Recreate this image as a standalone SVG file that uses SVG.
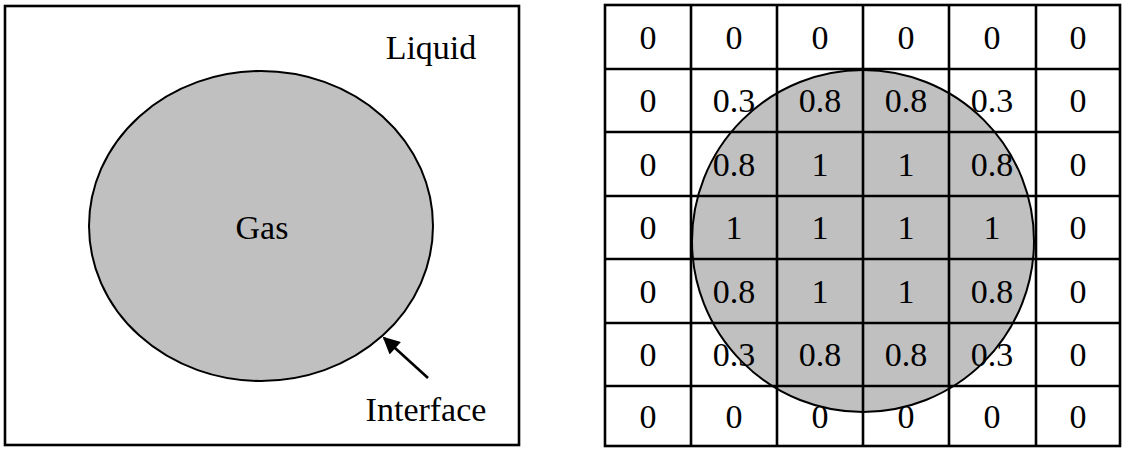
<svg xmlns="http://www.w3.org/2000/svg" width="1122" height="449" viewBox="0 0 1122 449">
<defs>
<style>
text{font-family:"Liberation Serif","Times New Roman",serif;font-size:34px;fill:#000}
.c{text-anchor:middle}
.gas{fill:#c0c0c0;stroke:#000;stroke-width:2}
.ln{stroke:#000;stroke-width:2.6;fill:none}
</style>
<marker id="ah" viewBox="0 0 10 10" refX="9" refY="5" markerWidth="7" markerHeight="6.5" markerUnits="strokeWidth" orient="auto">
<path d="M0,0 L10,5 L0,10 Z" fill="#000"/>
</marker>
</defs>
<rect width="1122" height="449" fill="#fff"/>
<g id="left-panel">
<rect class="ln" x="5" y="6" width="514" height="439"/>
<text x="431" y="59" class="c">Liquid</text>
</g>
<g id="gas">
<ellipse class="gas" cx="261" cy="226" rx="172" ry="155"/>
<text x="262" y="239" class="c">Gas</text>
</g>
<g id="interface">
<text x="426" y="421" class="c">Interface</text>
</g>
<g id="connectors">
<line x1="428" y1="378" x2="384" y2="338" stroke="#000" stroke-width="2.6" marker-end="url(#ah)"/>
</g>
<g id="grid">
<circle class="gas" cx="863" cy="241" r="171"/>
<g class="ln">
<rect x="605" y="5" width="515" height="441"/>
<line x1="691" y1="5" x2="691" y2="446"/>
<line x1="777" y1="5" x2="777" y2="446"/>
<line x1="863" y1="5" x2="863" y2="446"/>
<line x1="949" y1="5" x2="949" y2="446"/>
<line x1="1036" y1="5" x2="1036" y2="446"/>
<line x1="605" y1="69" x2="1120" y2="69"/>
<line x1="605" y1="132" x2="1120" y2="132"/>
<line x1="605" y1="196" x2="1120" y2="196"/>
<line x1="605" y1="259" x2="1120" y2="259"/>
<line x1="605" y1="323" x2="1120" y2="323"/>
<line x1="605" y1="386" x2="1120" y2="386"/>
</g>
<g class="c">
<text x="648" y="49">0</text><text x="734" y="49">0</text><text x="820" y="49">0</text><text x="906" y="49">0</text><text x="992" y="49">0</text><text x="1078" y="49">0</text>
<text x="648" y="112">0</text><text x="734" y="112">0.3</text><text x="820" y="112">0.8</text><text x="906" y="112">0.8</text><text x="992" y="112">0.3</text><text x="1078" y="112">0</text>
<text x="648" y="176">0</text><text x="734" y="176">0.8</text><text x="820" y="176">1</text><text x="906" y="176">1</text><text x="992" y="176">0.8</text><text x="1078" y="176">0</text>
<text x="648" y="239">0</text><text x="734" y="239">1</text><text x="820" y="239">1</text><text x="906" y="239">1</text><text x="992" y="239">1</text><text x="1078" y="239">0</text>
<text x="648" y="303">0</text><text x="734" y="303">0.8</text><text x="820" y="303">1</text><text x="906" y="303">1</text><text x="992" y="303">0.8</text><text x="1078" y="303">0</text>
<text x="648" y="366">0</text><text x="734" y="366">0.3</text><text x="820" y="366">0.8</text><text x="906" y="366">0.8</text><text x="992" y="366">0.3</text><text x="1078" y="366">0</text>
<text x="648" y="428">0</text><text x="734" y="428">0</text><text x="820" y="428">0</text><text x="906" y="428">0</text><text x="992" y="428">0</text><text x="1078" y="428">0</text>
</g>
</g>
</svg>
